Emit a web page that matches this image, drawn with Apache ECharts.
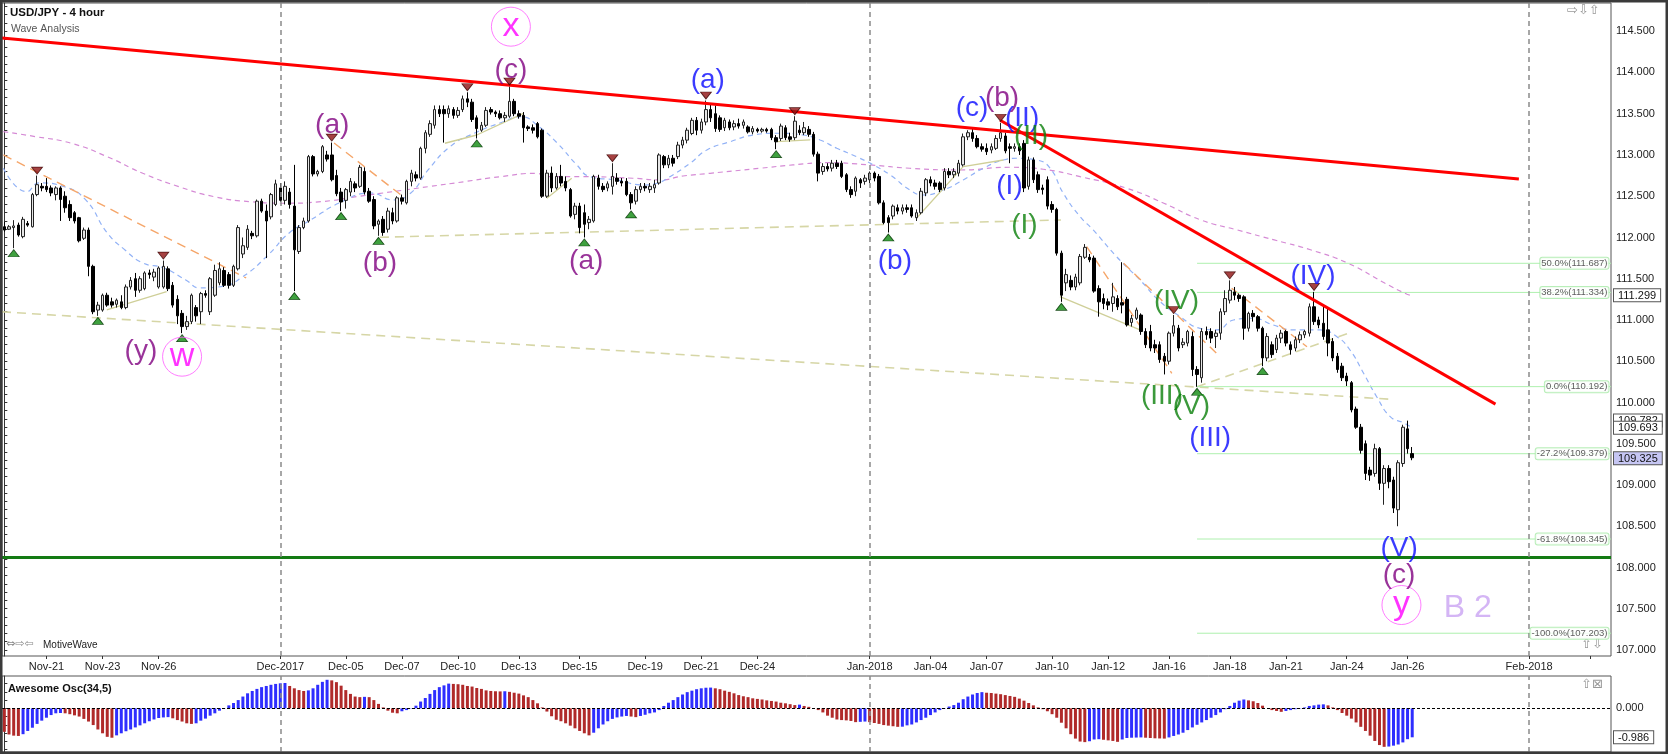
<!DOCTYPE html>
<html><head><meta charset="utf-8">
<script src="https://cdn.jsdelivr.net/npm/echarts@6.0.0/dist/echarts.min.js"></script>
<style>html,body{margin:0;padding:0;background:#fff}#c{width:1668px;height:754px}</style>
</head><body><div id="c"></div>
<script>
// ---------- DATA ----------
const opens = [112.13,112.10,112.12,112.15,112.01,112.17,112.13,112.52,112.62,112.62,
112.60,112.52,112.60,112.50,112.40,112.30,112.24,111.99,112.09,111.65,
111.12,111.12,111.30,111.22,111.19,111.22,111.15,111.40,111.50,111.36,
111.38,111.57,111.52,111.40,111.40,111.62,111.42,111.25,111.08,110.92,
110.98,111.15,111.10,111.32,111.10,111.30,111.45,111.60,111.55,111.42,
111.62,111.80,111.88,112.05,112.02,112.44,112.32,112.25,112.40,112.60,
112.45,112.55,112.38,111.83,112.12,112.20,112.98,112.77,112.80,113.00,
113.00,112.75,112.55,112.45,112.55,112.65,112.62,112.80,112.56,112.46,
112.16,112.22,112.10,112.30,112.20,112.48,112.42,112.68,112.76,112.72,
113.08,113.25,113.36,113.55,113.55,113.50,113.55,113.48,113.55,113.68,
113.64,113.45,113.30,113.36,113.55,113.52,113.50,113.45,113.47,113.65,
113.50,113.48,113.34,113.33,113.38,113.30,112.50,112.78,112.60,112.74,
112.68,112.58,112.28,112.38,112.30,112.18,112.20,112.72,112.62,112.60,
112.62,112.72,112.68,112.68,112.52,112.44,112.58,112.62,112.58,112.60,
112.66,112.98,112.88,112.96,112.98,113.12,113.18,113.26,113.42,113.30,
113.40,113.55,113.50,113.45,113.33,113.40,113.34,113.38,113.36,113.34,
113.28,113.31,113.29,113.31,113.31,113.21,113.20,113.33,113.22,113.21,
113.30,113.27,113.31,113.25,113.01,112.80,112.86,112.84,112.90,112.90,
112.76,112.58,112.56,112.70,112.68,112.70,112.78,112.74,112.42,112.24,
112.26,112.36,112.32,112.36,112.36,112.24,112.30,112.54,112.70,112.66,
112.66,112.60,112.80,112.76,112.78,112.88,113.22,113.27,113.20,113.10,
113.08,113.06,113.08,113.20,113.23,113.10,113.08,113.10,113.14,112.62,
112.94,112.76,112.60,112.70,112.40,112.34,111.81,111.45,111.48,111.40,
111.45,111.76,111.76,111.75,111.38,111.26,111.22,111.20,111.26,111.21,
111.25,110.97,111.02,111.06,110.86,110.86,110.70,110.70,110.56,110.50,
110.84,110.90,110.70,110.72,110.80,110.40,110.30,110.86,110.86,110.80,
110.84,111.10,111.24,111.34,111.30,111.28,110.90,111.08,111.04,110.90,
110.54,110.70,110.64,110.78,110.86,110.70,110.66,110.76,110.82,110.84,
111.16,111.00,110.96,110.88,110.74,110.56,110.44,110.32,110.24,109.92,
109.70,109.50,109.18,109.14,109.44,109.02,109.20,109.06,108.70,109.26,
109.68,109.38];
const closes = [112.09,112.13,112.14,112.03,112.22,112.15,112.52,112.64,112.60,112.58,
112.54,112.60,112.46,112.36,112.24,112.20,111.96,112.09,111.65,111.10,
111.18,111.30,111.18,111.18,111.24,111.15,111.40,111.48,111.36,111.50,
111.57,111.55,111.58,111.63,111.65,111.38,111.18,111.05,110.92,110.98,
111.30,111.05,111.32,111.30,111.50,111.60,111.62,111.42,111.42,111.65,
112.12,111.90,112.10,112.02,112.44,112.32,112.20,112.52,112.65,112.45,
112.62,112.40,111.85,112.12,112.20,112.98,112.77,112.80,113.10,112.95,
112.70,112.53,112.43,112.58,112.68,112.60,112.85,112.55,112.44,112.14,
112.20,112.06,112.32,112.20,112.48,112.44,112.68,112.78,112.72,113.08,
113.27,113.38,113.55,113.50,113.50,113.56,113.48,113.54,113.68,113.64,
113.43,113.32,113.36,113.54,113.52,113.50,113.45,113.48,113.65,113.50,
113.47,113.33,113.32,113.30,113.22,112.50,112.78,112.60,112.74,112.66,
112.60,112.26,112.38,112.12,112.16,112.22,112.74,112.62,112.58,112.65,
112.74,112.68,112.66,112.52,112.42,112.58,112.62,112.60,112.62,112.64,
113.00,112.88,112.96,112.90,113.12,113.18,113.30,113.42,113.30,113.40,
113.55,113.45,113.32,113.31,113.42,113.33,113.38,113.35,113.40,113.28,
113.32,113.29,113.31,113.29,113.21,113.16,113.35,113.21,113.19,113.41,
113.27,113.33,113.25,113.01,112.78,112.86,112.83,112.90,112.86,112.74,
112.58,112.52,112.72,112.66,112.72,112.78,112.72,112.42,112.18,112.18,
112.38,112.32,112.36,112.34,112.26,112.30,112.56,112.70,112.66,112.62,
112.58,112.80,112.76,112.80,112.90,113.22,113.27,113.20,113.10,113.07,
113.04,113.10,113.20,113.27,113.05,113.08,113.10,113.05,112.60,112.94,
112.70,112.58,112.58,112.38,112.34,111.81,111.30,111.55,111.40,111.52,
111.77,111.88,111.73,111.35,111.22,111.20,111.18,111.28,111.16,111.18,
110.94,111.02,111.12,110.86,110.70,110.66,110.66,110.52,110.50,110.84,
110.93,110.66,110.73,110.86,110.40,110.34,110.86,110.82,110.78,110.84,
111.10,111.26,111.36,111.30,111.26,110.90,111.08,111.04,110.90,110.54,
110.80,110.58,110.78,110.84,110.72,110.64,110.76,110.82,110.86,111.16,
110.98,110.94,110.80,110.72,110.54,110.40,110.30,110.26,109.91,109.70,
109.42,109.14,109.12,109.44,109.02,109.20,109.04,108.72,109.27,109.70,
109.44,109.33];
const lows = [112.07,112.09,111.87,112.01,111.99,112.13,112.12,112.50,112.56,112.55,
112.50,112.45,112.20,112.30,112.20,112.17,111.94,111.97,111.53,111.07,
111.05,111.10,111.16,111.15,111.15,111.13,111.13,111.37,111.28,111.33,
111.36,111.50,111.47,111.38,111.38,111.35,111.15,110.95,110.84,110.88,
110.95,110.98,110.95,111.27,111.06,111.28,111.42,111.40,111.38,111.40,
111.60,111.75,111.85,111.98,112.00,112.30,111.75,112.22,112.38,112.43,
112.40,112.35,111.35,111.80,112.10,112.18,112.74,112.74,112.78,112.92,
112.68,112.50,112.32,112.35,112.50,112.55,112.60,112.52,112.42,112.10,
112.02,112.02,112.06,112.16,112.18,112.40,112.40,112.62,112.68,112.70,
113.02,113.22,113.32,113.46,113.15,113.45,113.44,113.45,113.52,113.58,
113.40,113.20,113.28,113.34,113.49,113.46,113.43,113.40,113.45,113.47,
113.44,113.15,113.29,113.26,113.20,112.48,112.48,112.55,112.58,112.62,
112.56,112.24,112.22,112.05,112.00,112.10,112.18,112.58,112.55,112.56,
112.52,112.64,112.62,112.50,112.34,112.40,112.54,112.56,112.54,112.54,
112.64,112.84,112.84,112.86,112.95,113.08,113.14,113.24,113.24,113.26,
113.36,113.40,113.28,113.28,113.29,113.30,113.30,113.32,113.32,113.26,
113.25,113.27,113.27,113.27,113.18,113.07,113.17,113.18,113.16,113.18,
113.24,113.24,113.22,112.98,112.68,112.76,112.80,112.80,112.83,112.72,
112.55,112.48,112.50,112.60,112.64,112.66,112.68,112.40,112.16,112.06,
112.22,112.28,112.28,112.30,112.24,112.20,112.28,112.50,112.62,112.58,
112.55,112.57,112.72,112.72,112.74,112.86,113.18,113.16,113.08,113.04,
113.00,113.02,113.06,113.16,113.02,112.90,113.04,113.00,112.55,112.58,
112.66,112.54,112.52,112.34,112.30,111.78,111.22,111.35,111.36,111.36,
111.42,111.74,111.70,111.33,111.04,111.13,111.12,111.10,111.12,111.08,
110.92,110.92,111.00,110.82,110.66,110.62,110.60,110.48,110.34,110.46,
110.80,110.62,110.66,110.68,110.32,110.19,110.24,110.76,110.72,110.66,
110.76,111.06,111.20,111.24,111.22,110.76,110.86,110.98,110.86,110.44,
110.50,110.54,110.60,110.72,110.68,110.58,110.62,110.72,110.78,110.80,
110.94,110.90,110.76,110.56,110.50,110.36,110.26,110.20,109.88,109.68,
109.38,109.06,109.05,109.10,108.94,108.76,108.96,108.66,108.50,109.22,
109.38,109.30];
const highs = [112.19,112.15,112.21,112.18,112.25,112.20,112.54,112.75,112.66,112.72,
112.63,112.62,112.62,112.56,112.45,112.32,112.25,112.12,112.12,111.67,
111.22,111.32,111.33,111.27,111.26,111.30,111.43,111.52,111.57,111.53,
111.59,111.61,111.62,111.65,111.72,111.65,111.46,111.30,111.12,111.05,
111.32,111.18,111.34,111.36,111.52,111.67,111.70,111.64,111.58,111.67,
112.15,112.00,112.15,112.08,112.46,112.47,112.40,112.54,112.70,112.66,
112.68,112.60,112.88,112.15,112.24,113.00,113.00,112.82,113.12,113.05,
113.15,112.82,112.60,112.60,112.72,112.68,112.88,112.85,112.60,112.50,
112.22,112.26,112.36,112.36,112.50,112.52,112.70,112.82,112.80,113.10,
113.30,113.42,113.60,113.60,113.60,113.60,113.58,113.58,113.72,113.76,
113.68,113.48,113.40,113.58,113.58,113.54,113.54,113.52,113.83,113.68,
113.54,113.52,113.36,113.37,113.40,113.32,112.82,112.86,112.78,112.88,
112.74,112.60,112.42,112.42,112.40,112.26,112.76,112.76,112.66,112.68,
112.90,112.78,112.72,112.72,112.55,112.62,112.66,112.66,112.66,112.70,
113.02,113.00,113.00,113.00,113.16,113.22,113.33,113.45,113.46,113.44,
113.66,113.62,113.60,113.48,113.45,113.43,113.42,113.44,113.43,113.36,
113.35,113.33,113.33,113.33,113.33,113.24,113.38,113.36,113.27,113.47,
113.36,113.40,113.35,113.28,113.04,112.90,112.90,112.94,112.94,112.93,
112.78,112.62,112.74,112.72,112.76,112.80,112.80,112.77,112.45,112.27,
112.40,112.40,112.40,112.40,112.40,112.34,112.60,112.72,112.74,112.70,
112.68,112.84,112.84,112.84,112.94,113.26,113.30,113.33,113.24,113.14,
113.14,113.14,113.24,113.39,113.27,113.14,113.14,113.14,113.18,112.98,
112.97,112.80,112.64,112.74,112.44,112.36,111.84,111.62,111.54,111.56,
111.80,111.92,111.80,111.78,111.42,111.32,111.26,111.45,111.30,111.70,
111.28,111.06,111.15,111.08,110.90,110.94,110.76,110.74,110.60,110.86,
111.06,110.94,110.78,110.88,110.86,110.44,110.90,110.92,110.90,110.88,
111.14,111.36,111.48,111.40,111.32,111.30,111.10,111.12,111.06,110.92,
110.84,110.74,110.82,110.88,110.88,110.74,110.80,110.86,110.88,111.20,
111.34,111.04,111.18,111.14,110.78,110.60,110.48,110.36,110.26,109.95,
109.74,109.54,109.22,109.50,109.46,109.24,109.24,109.10,109.30,109.73,
109.78,109.46];
const aoValues = [-0.80,-0.89,-0.93,-0.94,-0.88,-0.77,-0.66,-0.53,-0.42,-0.32,
-0.23,-0.17,-0.16,-0.17,-0.20,-0.24,-0.28,-0.36,-0.45,-0.57,
-0.72,-0.85,-0.97,-1.00,-0.92,-0.85,-0.78,-0.72,-0.65,-0.58,
-0.51,-0.44,-0.38,-0.33,-0.31,-0.30,-0.34,-0.40,-0.45,-0.51,
-0.53,-0.51,-0.42,-0.35,-0.25,-0.17,-0.08,0.01,0.10,0.18,
0.28,0.40,0.51,0.59,0.66,0.72,0.76,0.80,0.83,0.85,
0.86,0.76,0.68,0.62,0.59,0.61,0.68,0.80,0.90,0.97,
0.95,0.89,0.77,0.62,0.49,0.40,0.38,0.39,0.38,0.28,
0.15,0.03,-0.08,-0.15,-0.17,-0.10,-0.06,0.01,0.09,0.23,
0.35,0.49,0.62,0.72,0.78,0.84,0.83,0.82,0.80,0.76,
0.74,0.69,0.66,0.61,0.59,0.58,0.575,0.58,0.56,0.53,
0.50,0.44,0.38,0.28,0.17,0.03,-0.11,-0.27,-0.39,-0.44,
-0.51,-0.59,-0.68,-0.77,-0.85,-0.92,-0.83,-0.68,-0.55,-0.44,
-0.36,-0.31,-0.28,-0.26,-0.28,-0.30,-0.26,-0.22,-0.17,-0.14,
-0.06,0.08,0.19,0.28,0.38,0.47,0.55,0.60,0.65,0.68,
0.70,0.705,0.68,0.65,0.60,0.56,0.51,0.45,0.41,0.38,
0.34,0.32,0.30,0.27,0.25,0.23,0.19,0.17,0.14,0.11,
0.125,0.08,0.05,0.00,-0.06,-0.14,-0.25,-0.32,-0.38,-0.40,
-0.41,-0.43,-0.47,-0.46,-0.45,-0.47,-0.50,-0.53,-0.57,-0.59,
-0.61,-0.63,-0.625,-0.58,-0.55,-0.48,-0.40,-0.32,-0.23,-0.14,
-0.06,0.01,0.06,0.11,0.19,0.31,0.40,0.47,0.52,0.55,
0.53,0.52,0.50,0.48,0.45,0.42,0.39,0.33,0.26,0.18,
0.10,0.03,-0.03,-0.10,-0.20,-0.32,-0.49,-0.68,-0.88,-1.03,
-1.13,-1.15,-1.12,-1.06,-1.05,-1.07,-1.09,-1.11,-1.14,-1.06,
-1.01,-1.00,-0.995,-0.99,-1.00,-1.01,-1.02,-1.025,-1.03,-0.99,
-0.94,-0.89,-0.83,-0.74,-0.65,-0.56,-0.48,-0.40,-0.32,-0.23,
-0.14,-0.03,0.08,0.19,0.26,0.30,0.27,0.24,0.18,0.09,
0.00,-0.06,-0.09,-0.12,-0.09,-0.06,-0.03,-0.01,0.03,0.08,
0.10,0.125,0.135,0.10,0.03,-0.06,-0.16,-0.25,-0.35,-0.48,
-0.63,-0.77,-0.93,-1.11,-1.25,-1.31,-1.30,-1.27,-1.23,-1.16,
-1.05,-0.986];

const dateLabels = ['Nov-21','Nov-23','Nov-26','Dec-2017','Dec-05','Dec-07','Dec-10','Dec-13','Dec-15','Dec-19','Dec-21','Dec-24','Jan-2018','Jan-04','Jan-07','Jan-10','Jan-12','Jan-16','Jan-18','Jan-21','Jan-24','Jan-26','Feb-2018'];
const dateLabelIdx = [9,21,33,59,73,85,97,110,123,137,149,161,185,198,210,224,236,249,262,274,287,300,326];
const extraTickIdx = [339];
const monthLineIdx = [59,185,326];
const priceTicks = [107,107.5,108,108.5,109,109.5,110,110.5,111,111.5,112,112.5,113,113.5,114,114.5];
const priceMarkers = [111.299,109.782,109.693];
const lastPrice = 109.325;
const aoLast = -0.986;
const fibNames = ['50.0%','38.2%','0.0%','-27.2%','-61.8%','-100.0%'];
const fibLevels = [111.687,111.334,110.192,109.379,108.345,107.203];
const fibStartIdx = 255;
const supportLevel = 108.12;
const trendUpper = [[-0.5,114.418],[323.8,112.709]];
const trendLower = [[212.9,113.42],[318.8,109.98]];
const maFast = [[-0.2,112.839],[4.8,112.555],[7.4,112.661],[12.8,112.616],[17.4,112.455],[22.0,112.055],[25.8,111.848],[29.6,111.691],[34.1,111.630],[38.8,111.485],[41.8,111.388],[46.3,111.404],[51.0,111.525],[56.4,111.788],[60.9,112.055],[65.5,112.212],[71.6,112.418],[78.4,112.539],[83.1,112.455],[86.9,112.539],[90.6,112.818],[95.3,113.101],[100.6,113.267],[106.0,113.388],[110.5,113.464],[114.3,113.343],[118.2,113.145],[122.4,112.879],[125.2,112.737],[130.9,112.697],[136.6,112.636],[139.5,112.657],[142.3,112.737],[146.6,112.899],[150.2,113.061],[155.2,113.161],[160.1,113.242],[165.1,113.263],[170.8,113.242],[174.4,113.182],[178.0,113.081],[182.2,112.979],[185.8,112.879],[189.4,112.758],[193.6,112.576],[196.5,112.515],[200.8,112.576],[205.0,112.697],[209.3,112.839],[213.6,112.939],[216.5,112.960],[220.7,112.939],[223.6,112.839],[226.4,112.536],[230.0,112.252],[232.8,112.091],[237.8,111.767],[242.8,111.485],[247.1,111.222],[251.4,111.040],[255.6,110.899],[259.2,110.879],[262.8,111.000],[267.0,111.021],[271.3,110.939],[275.6,110.879],[281.3,110.879],[284.9,110.798],[287.7,110.636],[290.6,110.354],[293.4,110.070],[296.3,109.828],[299.1,109.755],[301,109.693]];
const maSlow = [[-0.2,113.282],[6.7,113.222],[14.3,113.142],[22.0,112.979],[29.6,112.778],[37.3,112.616],[44.8,112.495],[52.5,112.434],[60.1,112.415],[67.7,112.434],[75.4,112.495],[83.0,112.555],[90.7,112.616],[98.3,112.676],[106.0,112.737],[113.6,112.778],[116.7,112.737],[123.7,112.737],[134.4,112.718],[140.2,112.697],[145.1,112.745],[150.9,112.778],[161.6,112.839],[168.6,112.879],[175.8,112.907],[185.1,112.879],[193.6,112.839],[204.3,112.818],[215.0,112.851],[222.1,112.827],[230.0,112.737],[240.0,112.596],[247.9,112.415],[255.8,112.212],[263.6,112.091],[271.5,111.970],[279.4,111.848],[287.3,111.687],[295.2,111.445],[299.9,111.312],[301,111.299]];
const orangeSegments = [[[-0.2,113.0],[51.7,111.509]],[[70.5,113.145],[85.7,112.475]],[[231.4,111.888],[249.6,110.354]],[[239.3,111.687],[259.9,110.555]],[[262.4,111.384],[278.5,110.676]]];
const tanDashedSegments = [[[-0.5,111.099],[296.3,110.039]],[[80.3,112.002],[225.9,112.212]],[[255,110.192],[287.3,110.839]]];
const tanSolidSegments = [[[21.9,111.121],[34.7,111.343]],[[94.2,113.142],[101,113.242],[111,113.505]],[[116,112.475],[121.3,112.718]],[[165.1,113.161],[172.3,113.182]],[[195,112.233],[205,112.858],[213.6,112.939]],[[225.7,111.282],[242.8,110.879]]];
const swingHighIdx = [7,34,70,99,108,130,150,169,213,250,262,280];
const swingLowIdx = [2,20,38,62,72,80,101,124,134,165,189,226,255,269];
const wavePurple = [['(c)',108.3,114.03],['(a)',70.1,113.364],['(b)',80.3,111.691],['(y)',29.2,110.616],['(a)',124.4,111.707],['(b)',213.3,113.69],['(c)',298.2,107.909]];
const waveBlue = [['(a)',150.4,113.909],['(b)',190.4,111.707],['(c)',206.9,113.57],['(II)',217.6,113.448],['(I)',214.9,112.616],['(IV)',279.8,111.525],['(III)',257.8,109.57],['(V)',298.2,108.233]];
const waveGreen = [['(II)',219.5,113.222],['(I)',218.1,112.152],['(IV)',250.6,111.222],['(III)',247.5,110.07],['(V)',253.8,109.949]];
const waveCircled = [['x',108.3,114.555],['w',38.0,110.555],['y',298.7,107.545]];
const degreeLabel = [['B 2',312.9,107.505]];

// ---------- CHART ----------
const FONT = '"Liberation Sans", Arial, sans-serif';
const X_MIN = -0.5, X_MAX = 343.5;
const Y_MIN = 106.927, Y_MAX = 114.842;
const minorTicks = [];
for (let v = 1070; v <= 1148; v++) minorTicks.push(v / 10);

const chart = echarts.init(document.getElementById('c'), null, {renderer: 'canvas', width: 1668, height: 754});
const candleData = opens.map((o, i) => [i, o, closes[i], lows[i], highs[i]]);
const aoData = aoValues.map((v, i) => [i, v]);

function segs(list, color, type, width, z) {
  return list.map(seg => ({
    type: 'line', xAxisIndex: 0, yAxisIndex: 0, data: seg, symbol: 'none', silent: true, z: z,
    lineStyle: {color: color, width: width, type: type}
  }));
}
function waveSeries(list, color, size) {
  return {
    type: 'scatter', xAxisIndex: 0, yAxisIndex: 0, z: 8, symbolSize: 1, silent: true,
    itemStyle: {color: 'rgba(0,0,0,0)'},
    data: list.map(d => ({name: d[0], value: [d[1], d[2]]})),
    label: {show: true, position: 'inside', formatter: '{b}', color: color, fontSize: size, fontFamily: FONT}
  };
}

const series = [];
series.push({type: 'line', xAxisIndex: 0, yAxisIndex: 0, data: maSlow, smooth: true, symbol: 'none', silent: true, z: 1,
  lineStyle: {color: '#d58ad5', width: 1.2, type: [5, 4]}});
series.push({type: 'line', xAxisIndex: 0, yAxisIndex: 0, data: maFast, smooth: true, symbol: 'none', silent: true, z: 1,
  lineStyle: {color: '#92b2f6', width: 1.2, type: [5, 4]}});
series.push(...segs(tanDashedSegments, '#d6d6a6', [9, 6], 1.6, 1));
series.push(...segs(tanSolidSegments, '#cfcf98', 'solid', 1.3, 1));
series.push(...segs(orangeSegments, '#f5a66a', [9, 6], 1.4, 1));
// fib lines
fibLevels.forEach(lv => {
  series.push({type: 'line', xAxisIndex: 0, yAxisIndex: 0, data: [[fibStartIdx, lv], [X_MAX, lv]], symbol: 'none', silent: true, z: 1,
    lineStyle: {color: '#aef0ae', width: 1}});
});
// candles
series.push({
  type: 'candlestick', xAxisIndex: 0, yAxisIndex: 0, data: candleData, barWidth: 3, z: 3,
  itemStyle: {color: '#e6e6e6', color0: '#000000', borderColor: '#222222', borderColor0: '#000000', borderWidth: 1},
  markLine: {silent: true, symbol: ['none', 'none'], label: {show: false}, animation: false,
    lineStyle: {color: '#8a8a8a', width: 1.5, type: [5, 4]},
    data: monthLineIdx.map(x => ({xAxis: x}))}
});
// support & trendlines
series.push({type: 'line', xAxisIndex: 0, yAxisIndex: 0, data: [[X_MIN, supportLevel], [X_MAX, supportLevel]], symbol: 'none', silent: true, z: 4,
  lineStyle: {color: '#137a13', width: 3}});
series.push({type: 'line', xAxisIndex: 0, yAxisIndex: 0, data: trendUpper, symbol: 'none', silent: true, z: 5,
  lineStyle: {color: '#ff0000', width: 3}});
series.push({type: 'line', xAxisIndex: 0, yAxisIndex: 0, data: trendLower, symbol: 'none', silent: true, z: 5,
  lineStyle: {color: '#ff0000', width: 3}});
// fib labels
series.push({
  type: 'scatter', xAxisIndex: 0, yAxisIndex: 0, z: 7, symbolSize: 1, silent: true, itemStyle: {color: 'rgba(0,0,0,0)'},
  data: fibLevels.map((lv, i) => ({name: fibNames[i] + '(' + lv.toFixed(3) + ')', value: [X_MAX, lv]})),
  label: {show: true, position: 'left', distance: 2, formatter: '{b}', fontSize: 9.5, fontFamily: FONT, color: '#333',
    backgroundColor: '#ffffff', borderColor: '#a6eaa6', borderWidth: 1, borderRadius: 2, padding: [1, 1, 0, 1]}
});
// swing markers
series.push({
  type: 'scatter', xAxisIndex: 0, yAxisIndex: 0, z: 6, symbol: 'triangle', symbolSize: [11, 7], symbolRotate: 180,
  symbolOffset: [0, -5], silent: true,
  itemStyle: {color: '#8e1212', borderColor: '#3a0000', borderWidth: 0.8},
  data: swingHighIdx.map(i => [i, highs[i]])
});
series.push({
  type: 'scatter', xAxisIndex: 0, yAxisIndex: 0, z: 6, symbol: 'triangle', symbolSize: [11, 7],
  symbolOffset: [0, 5], silent: true,
  itemStyle: {color: '#0f8a0f', borderColor: '#003300', borderWidth: 0.8},
  data: swingLowIdx.map(i => [i, lows[i]])
});
// wave labels
series.push(waveSeries(waveBlue, '#0a0aff', 28));
series.push(waveSeries(wavePurple, '#800080', 28));
series.push(waveSeries(waveGreen, '#0a800a', 28));
series.push(waveSeries(degreeLabel, '#c9a3f2', 32));
series.push({
  type: 'scatter', xAxisIndex: 0, yAxisIndex: 0, z: 8, symbol: 'circle', symbolSize: 39, silent: true,
  itemStyle: {color: 'rgba(255,255,255,0)', borderColor: '#ff5cff', borderWidth: 1},
  data: waveCircled.map(d => ({name: d[0], value: [d[1], d[2]]})),
  label: {show: true, position: 'inside', formatter: '{b}', color: '#ff00ff', fontSize: 34, fontFamily: FONT}
});
// Awesome oscillator
series.push({
  type: 'bar', xAxisIndex: 1, yAxisIndex: 2, data: aoData, barWidth: 3, z: 3,
  itemStyle: {color: p => (p.dataIndex > 0 && aoValues[p.dataIndex] > aoValues[p.dataIndex - 1]) ? '#2e2eff' : '#b02a2a'},
  markLine: {silent: true, symbol: ['none', 'none'], label: {show: false}, animation: false,
    data: monthLineIdx.map(x => ({xAxis: x, lineStyle: {color: '#8a8a8a', width: 1.5, type: [5, 4]}}))
      .concat([{yAxis: 0, lineStyle: {color: '#000', width: 1, type: [3, 2]}}])}
});

const boxStyle = {backgroundColor: '#ffffff', borderColor: '#555', borderWidth: 1, padding: [1, 4, 0, 4], fontSize: 11, fontFamily: FONT, color: '#111'};
const hlStyle = Object.assign({}, boxStyle, {backgroundColor: '#c6c6f3'});

chart.setOption({
  animation: false,
  backgroundColor: '#ffffff',
  grid: [
    {left: 2, right: 57, top: 3, bottom: 98, show: true, borderColor: '#555', borderWidth: 1, backgroundColor: '#fff', containLabel: false, outerBoundsMode: 'none'},
    {left: 2, right: 57, top: 676, bottom: 2, show: true, borderColor: '#555', borderWidth: 1, backgroundColor: '#fff', containLabel: false, outerBoundsMode: 'none'}
  ],
  xAxis: [
    {type: 'value', gridIndex: 0, min: X_MIN, max: X_MAX, position: 'bottom',
      axisLine: {show: false}, splitLine: {show: false},
      axisTick: {show: true, customValues: dateLabelIdx.concat(extraTickIdx), length: 3, lineStyle: {color: '#333'}},
      axisLabel: {show: true, customValues: dateLabelIdx, margin: 5, fontSize: 11, fontFamily: FONT, color: '#222',
        formatter: v => dateLabels[dateLabelIdx.indexOf(Math.round(v))] || ''}},
    {type: 'value', gridIndex: 1, min: X_MIN, max: X_MAX, axisLine: {show: false}, axisTick: {show: false},
      axisLabel: {show: false}, splitLine: {show: false}}
  ],
  yAxis: [
    {type: 'value', gridIndex: 0, min: Y_MIN, max: Y_MAX, position: 'right', scale: true,
      axisLine: {show: true, lineStyle: {color: '#333'}}, splitLine: {show: false},
      axisTick: {show: true, customValues: minorTicks, length: 3, lineStyle: {color: '#333'}},
      axisLabel: {customValues: priceTicks, margin: 5, fontSize: 11, fontFamily: FONT, color: '#222', formatter: v => v.toFixed(3)}},
    {type: 'value', gridIndex: 0, min: Y_MIN, max: Y_MAX, position: 'right', scale: true,
      axisLine: {show: false}, axisTick: {show: false}, splitLine: {show: false},
      axisLabel: {customValues: priceMarkers.concat([lastPrice]), margin: 3,
        formatter: v => (Math.abs(v - lastPrice) < 1e-6 ? '{hl|' : '{bx|') + v.toFixed(3) + '}',
        rich: {bx: boxStyle, hl: hlStyle}}},
    {type: 'value', gridIndex: 1, min: -1.486, max: 1.099, position: 'right', scale: true,
      axisLine: {show: true, lineStyle: {color: '#333'}}, splitLine: {show: false},
      axisTick: {show: true, customValues: [-1.4, -1.12, -0.84, -0.56, -0.28, 0, 0.28, 0.56, 0.84], length: 3, lineStyle: {color: '#333'}},
      axisLabel: {customValues: [0], margin: 5, fontSize: 11, fontFamily: FONT, color: '#222', formatter: v => v.toFixed(3)}},
    {type: 'value', gridIndex: 1, min: -1.486, max: 1.099, position: 'right', scale: true,
      axisLine: {show: false}, axisTick: {show: false}, splitLine: {show: false},
      axisLabel: {customValues: [aoLast], margin: 3, formatter: v => '{bx|' + v.toFixed(3) + '}', rich: {bx: boxStyle}}}
  ],
  series: series,
  graphic: [
    {type: 'text', left: 10, top: 7, style: {text: 'USD/JPY - 4 hour', font: 'bold 11.5px ' + FONT, fill: '#111'}},
    {type: 'text', left: 11, top: 24, style: {text: 'Wave Analysis', font: '10.5px ' + FONT, fill: '#555'}},
    {type: 'text', left: 6, top: 639, style: {text: '⇔⇨⇦', font: '11px "DejaVu Sans"', fill: '#888'}},
    {type: 'text', left: 43, top: 640, style: {text: 'MotiveWave', font: '10px ' + FONT, fill: '#222'}},
    {type: 'text', left: 8, top: 683, style: {text: 'Awesome Osc(34,5)', font: 'bold 11px ' + FONT, fill: '#111'}},
    {type: 'text', left: 1567, top: 4, style: {text: '⇨⇩⇧', font: '13px "DejaVu Sans"', fill: '#999'}},
    {type: 'text', left: 1581, top: 638, style: {text: '⇧⇩', font: '13px "DejaVu Sans"', fill: '#999'}},
    {type: 'text', left: 1581, top: 678, style: {text: '⇧⊠', font: '13px "DejaVu Sans"', fill: '#999'}},
    {type: 'rect', shape: {x: 1, y: 1, width: 1666, height: 752}, style: {fill: 'none', stroke: '#3a3a3a', lineWidth: 3}, z: 100}
  ]
});
</script></body></html>
